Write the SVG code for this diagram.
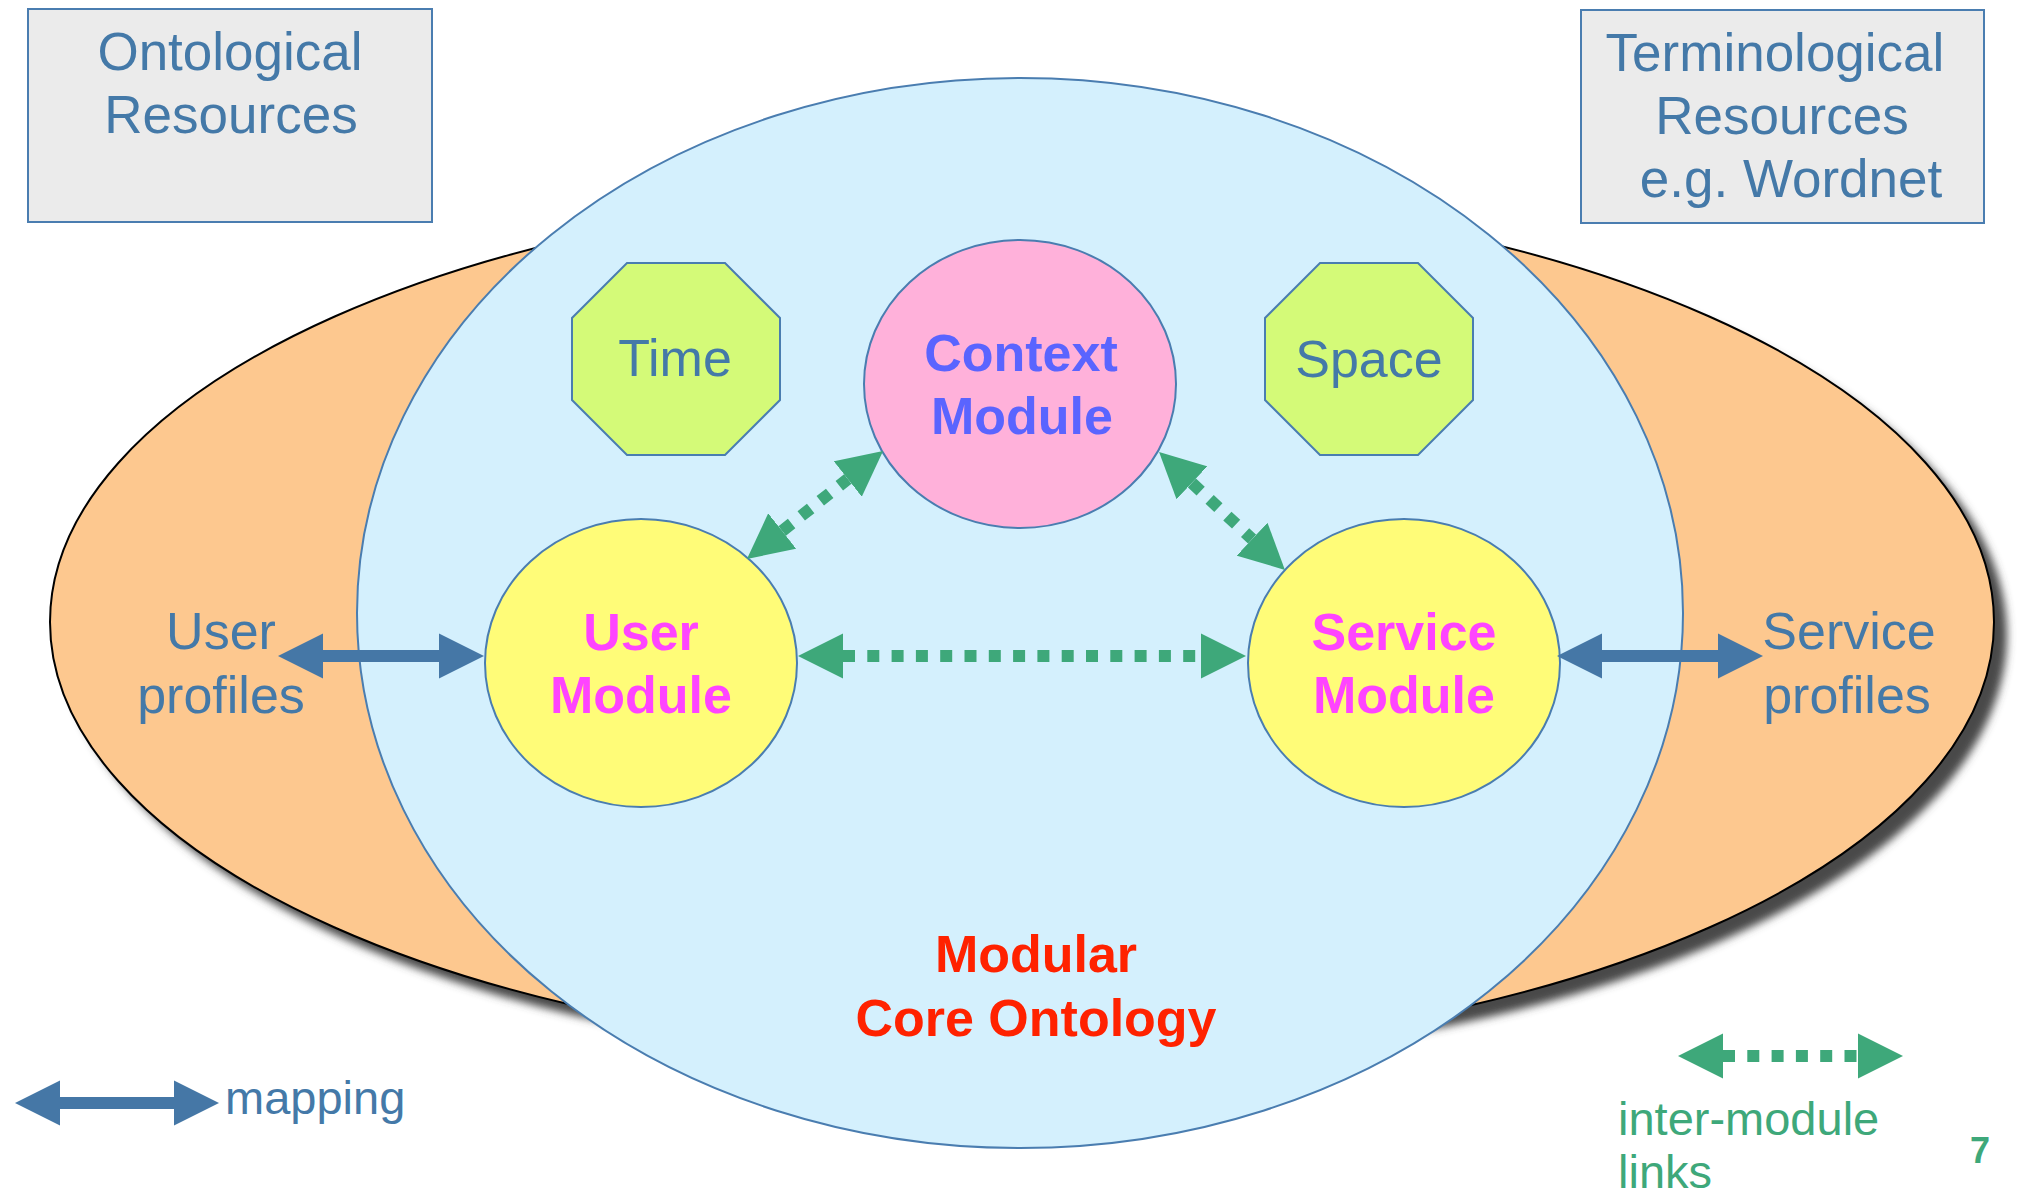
<svg xmlns="http://www.w3.org/2000/svg" width="2020" height="1195" viewBox="0 0 2020 1195">
<style>
text{font-family:"Liberation Sans",Arial,sans-serif;text-anchor:middle}
.lbl{font-size:52px;fill:#4479A8}
.box{fill:#EBEBEB;stroke:#4A7DB0;stroke-width:2}
.oct{fill:#D4FA78;stroke:#4A7DB0;stroke-width:2}
.mod{fill:#FFFC78;stroke:#4A7DB0;stroke-width:2}
.mt{font-size:52px;font-weight:bold;fill:#FF44FF}
.map{stroke:#4577A6;stroke-width:12;fill:none}
.iml{stroke:#3EA87A;stroke-width:12;fill:none;stroke-dasharray:12 12.3}
.leg{font-size:47px;text-anchor:start}
</style>
<defs>
<filter id="blur" x="-5%" y="-5%" width="110%" height="115%"><feGaussianBlur stdDeviation="4"/></filter>
<marker id="bh" markerUnits="userSpaceOnUse" markerWidth="46" markerHeight="46" viewBox="0 -23 46 46" refX="0" refY="0" orient="auto-start-reverse"><path d="M0,-22.5 L45,0 L0,22.5 z" fill="#4577A6"/></marker>
<marker id="gh" markerUnits="userSpaceOnUse" markerWidth="46" markerHeight="46" viewBox="0 -23 46 46" refX="0" refY="0" orient="auto-start-reverse"><path d="M0,-22.5 L45,0 L0,22.5 z" fill="#3EA87A"/></marker>
</defs>
<rect width="2020" height="1195" fill="#FFFFFF"/>

<g id="outer-profiles">
<ellipse cx="1035" cy="635" rx="972" ry="432" fill="#4A4A4A" filter="url(#blur)"/>
<ellipse cx="1022" cy="622" rx="972" ry="432" fill="#FDC88F" stroke="#000000" stroke-width="2"/>
</g>

<g id="core-ontology">
<ellipse cx="1020" cy="613" rx="663" ry="535" fill="#D4F0FD" stroke="#4A7DB0" stroke-width="2"/>
<text x="1036" y="972" style="font-size:52px;font-weight:bold;fill:#FF2200">Modular</text>
<text x="1036" y="1036" style="font-size:52px;font-weight:bold;fill:#FF2200">Core Ontology</text>
</g>

<g id="ontological-resources">
<rect class="box" x="28" y="9" width="404" height="213"/>
<text class="lbl" x="230" y="70" style="font-size:53px">Ontological</text>
<text class="lbl" x="231" y="133" style="font-size:53px">Resources</text>
</g>

<g id="terminological-resources">
<rect class="box" x="1581" y="10" width="403" height="213"/>
<text class="lbl" x="1775" y="71" style="font-size:53px">Terminological</text>
<text class="lbl" x="1782" y="134" style="font-size:53px">Resources</text>
<text class="lbl" x="1791" y="197" style="font-size:53px">e.g. Wordnet</text>
</g>

<g id="time">
<polygon class="oct" points="627,263 725,263 780,318 780,400 725,455 627,455 572,400 572,318"/>
<text class="lbl" x="675" y="376">Time</text>
</g>

<g id="space">
<polygon class="oct" points="1320,263 1418,263 1473,318 1473,400 1418,455 1320,455 1265,400 1265,318"/>
<text class="lbl" x="1369" y="377">Space</text>
</g>

<g id="context-module">
<ellipse cx="1020" cy="384" rx="156" ry="144" fill="#FFB1DA" stroke="#4A7DB0" stroke-width="2"/>
<text x="1021" y="371" style="font-size:52px;font-weight:bold;fill:#5A64FF">Context</text>
<text x="1022" y="434" style="font-size:52px;font-weight:bold;fill:#5A64FF">Module</text>
</g>

<g id="user-module">
<ellipse class="mod" cx="641" cy="663" rx="156" ry="144"/>
<text class="mt" x="641" y="650">User</text>
<text class="mt" x="641" y="713">Module</text>
</g>

<g id="service-module">
<ellipse class="mod" cx="1404" cy="663" rx="156" ry="144"/>
<text class="mt" x="1404" y="650">Service</text>
<text class="mt" x="1404" y="713">Module</text>
</g>

<g id="user-profiles">
<text class="lbl" x="221" y="649">User</text>
<text class="lbl" x="221" y="713">profiles</text>
</g>

<g id="service-profiles">
<text class="lbl" x="1849" y="649">Service</text>
<text class="lbl" x="1847" y="713">profiles</text>
</g>

<g id="connectors">
<path class="map" d="M323,656 L439,656" marker-start="url(#bh)" marker-end="url(#bh)"/>
<path class="map" d="M1602,656 L1718,656" marker-start="url(#bh)" marker-end="url(#bh)"/>
<path class="iml" d="M843,656 L1201,656" marker-start="url(#gh)" marker-end="url(#gh)"/>
<path class="iml" d="M782.2,531 L847.8,479" marker-start="url(#gh)" marker-end="url(#gh)"/>
<path class="iml" d="M1191.9,482.8 L1252.1,539.2" marker-start="url(#gh)" marker-end="url(#gh)"/>
</g>

<g id="legend">
<path class="map" d="M60,1103 L174,1103" marker-start="url(#bh)" marker-end="url(#bh)"/>
<text class="leg" x="225" y="1114" style="fill:#4479A8">mapping</text>
<path class="iml" d="M1723,1056 L1858,1056" marker-start="url(#gh)" marker-end="url(#gh)"/>
<text class="leg" x="1618" y="1135" style="fill:#3EA87A">inter-module</text>
<text class="leg" x="1618" y="1188" style="fill:#3EA87A">links</text>
<text x="1980" y="1163" style="font-size:36px;font-weight:bold;fill:#3EA87A">7</text>
</g>
</svg>
